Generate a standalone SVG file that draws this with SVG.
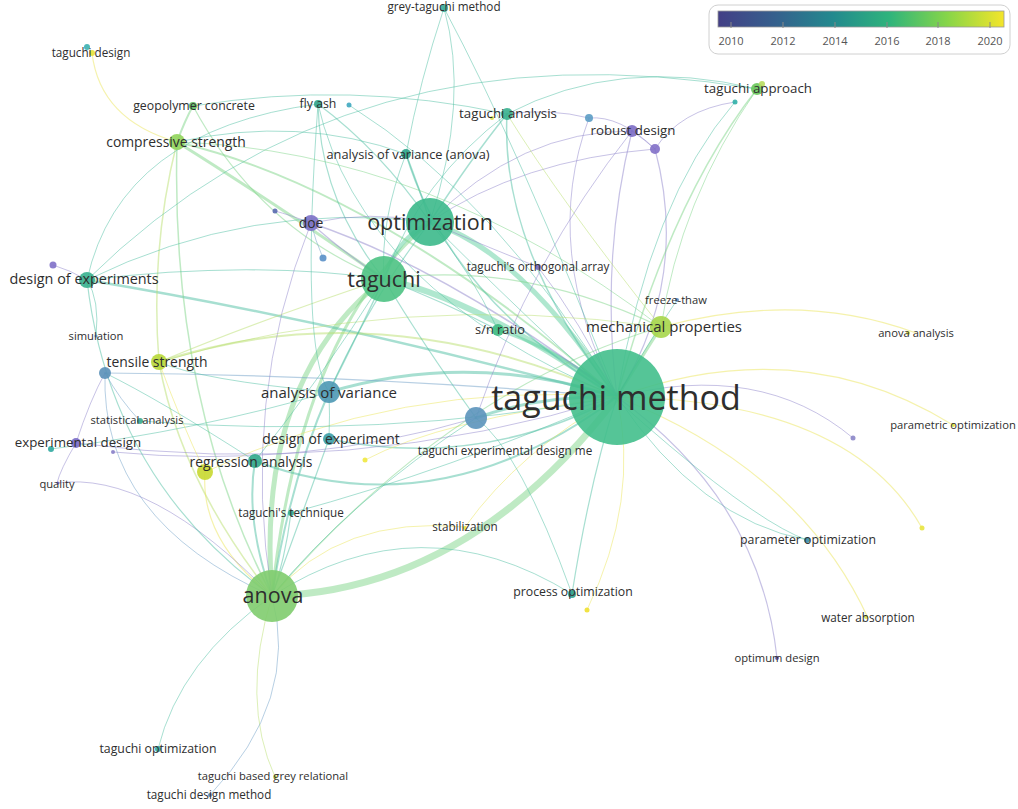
<svg xmlns="http://www.w3.org/2000/svg" width="1018" height="809" viewBox="0 0 1018 809">
<defs>
<linearGradient id="vir" x1="0" y1="0" x2="1" y2="0">
<stop offset="0" stop-color="#433f86"/>
<stop offset="0.2" stop-color="#35608d"/>
<stop offset="0.4" stop-color="#23898e"/>
<stop offset="0.6" stop-color="#2fb47c"/>
<stop offset="0.8" stop-color="#86d549"/>
<stop offset="1" stop-color="#f4e52a"/>
</linearGradient>
<style>
path{fill:none;stroke-linecap:round;stroke-opacity:0.5}
.t{stroke:#4fbfa3}.g{stroke:#7fd68a}.yg{stroke:#b9e070}.y{stroke:#ebe65a}.p{stroke:#8f86cc}.b{stroke:#6f9fc8}.tg{stroke:#5fcf9f}
text{font-family:"Open Sans","Noto Sans","Liberation Sans",sans-serif;fill:#2e2e2e;text-anchor:middle}
.lg{font-size:11px;fill:#555}
circle{fill-opacity:0.9}
</style>
</defs>
<rect width="1018" height="809" fill="#ffffff"/>

<g id="connectors">
<path class="g" stroke-width="7" d="M272 596 Q470 590 617 397"/>
<path class="tg" stroke-width="6" d="M384 279 Q480 300 617 397"/>
<path class="tg" stroke-width="5" d="M430 222 Q520 250 617 397"/>
<path class="g" stroke-width="5" d="M272 596 Q255 380 384 279"/>
<path class="g" stroke-width="3" d="M272 596 Q300 330 430 222"/>
<path class="tg" stroke-width="4" d="M384 279 Q395 240 430 222"/>
<path class="t" stroke-width="3" d="M329 392 Q470 350 617 397"/>
<path class="t" stroke-width="2.5" d="M87 280 Q330 320 617 397"/>
<path class="yg" stroke-width="2" d="M159 362 Q380 290 617 397"/>
<path class="t" stroke-width="2" d="M272 596 Q290 480 329 392"/>
<path class="t" stroke-width="3" d="M476 418 Q540 395 617 397"/>
<path class="tg" stroke-width="3" d="M498 330 Q560 350 617 397"/>
<path class="g" stroke-width="3" d="M661 327 Q640 360 617 397"/>
<path class="t" stroke-width="2" d="M255 461 Q440 530 617 397"/>
<path class="t" stroke-width="2" d="M272 596 Q245 520 255 461"/>
<path class="p" stroke-width="1.5" d="M311 223 Q450 270 617 397"/>
<path class="g" stroke-width="3" d="M177 142 Q270 200 384 279"/>
<path class="g" stroke-width="2" d="M177 142 Q380 190 617 397"/>
<path class="g" stroke-width="1.5" d="M177 142 Q170 400 272 596"/>
<path class="yg" stroke-width="1.5" d="M177 142 Q150 250 159 362"/>
<path class="g" stroke-width="2" d="M177 142 Q185 120 193 106"/>
<path class="y" stroke-width="1.2" d="M92 53 Q100 120 177 142"/>
<path class="g" stroke-width="1.2" d="M193 106 Q260 230 384 279"/>
<path class="t" stroke-width="1" d="M193 106 Q350 80 507 114"/>
<path class="t" stroke-width="1" d="M177 142 Q300 115 406 154"/>
<path class="t" stroke-width="1.2" d="M318 104 Q320 200 384 279"/>
<path class="t" stroke-width="1.2" d="M318 104 Q380 150 430 222"/>
<path class="t" stroke-width="1" d="M318 104 Q360 290 617 397"/>
<path class="t" stroke-width="1" d="M349 105 Q500 200 617 397"/>
<path class="t" stroke-width="1.5" d="M507 114 Q500 250 617 397"/>
<path class="t" stroke-width="1.5" d="M507 114 Q470 160 430 222"/>
<path class="t" stroke-width="1" d="M507 114 Q420 180 384 279"/>
<path class="t" stroke-width="1.5" d="M406 154 Q450 300 617 397"/>
<path class="t" stroke-width="1.5" d="M406 154 Q420 190 430 222"/>
<path class="t" stroke-width="1" d="M406 154 Q380 220 384 279"/>
<path class="p" stroke-width="1.2" d="M632 131 Q600 260 617 397"/>
<path class="p" stroke-width="1" d="M632 131 Q520 130 430 222"/>
<path class="p" stroke-width="1" d="M589 118 Q540 250 617 397"/>
<path class="p" stroke-width="1" d="M589 118 Q550 108 507 114"/>
<path class="p" stroke-width="1" d="M589 118 Q620 115 655 149"/>
<path class="p" stroke-width="1.2" d="M655 149 Q690 280 617 397"/>
<path class="p" stroke-width="1" d="M655 149 Q520 160 430 222"/>
<path class="p" stroke-width="1" d="M632 131 Q645 140 655 149"/>
<path class="p" stroke-width="1" d="M735 102 Q680 110 655 149"/>
<path class="g" stroke-width="1.5" d="M757 89 Q670 200 617 397"/>
<path class="t" stroke-width="1" d="M735 102 Q650 200 617 397"/>
<path class="t" stroke-width="1" d="M757 89 Q620 55 507 114"/>
<path class="t" stroke-width="1" d="M757 89 Q350 20 87 280"/>
<path class="t" stroke-width="1" d="M444 8 Q520 150 617 397"/>
<path class="t" stroke-width="1" d="M444 8 Q470 100 430 222"/>
<path class="p" stroke-width="1" d="M538 267 Q580 320 617 397"/>
<path class="p" stroke-width="1" d="M538 267 Q470 240 430 222"/>
<path class="t" stroke-width="1" d="M677 300 Q650 340 617 397"/>
<path class="y" stroke-width="1.2" d="M661 327 Q800 290 916 333"/>
<path class="y" stroke-width="1.2" d="M953 425 Q800 330 617 397"/>
<path class="p" stroke-width="1" d="M853 438 Q760 360 617 397"/>
<path class="y" stroke-width="1.2" d="M922 528 Q850 400 617 397"/>
<path class="t" stroke-width="1" d="M807 540 Q700 520 617 397"/>
<path class="y" stroke-width="1.2" d="M868 618 Q800 470 617 397"/>
<path class="p" stroke-width="1.2" d="M777 658 Q760 500 617 397"/>
<path class="t" stroke-width="1.2" d="M572 594 Q590 480 617 397"/>
<path class="t" stroke-width="1" d="M572 594 Q420 500 272 596"/>
<path class="y" stroke-width="1" d="M587 610 Q640 500 617 397"/>
<path class="y" stroke-width="1" d="M465 527 Q520 450 617 397"/>
<path class="y" stroke-width="1" d="M465 527 Q340 515 272 596"/>
<path class="t" stroke-width="1.2" d="M291 513 Q285 560 272 596"/>
<path class="t" stroke-width="1" d="M291 513 Q450 470 617 397"/>
<path class="t" stroke-width="1.5" d="M329 439 Q480 470 617 397"/>
<path class="t" stroke-width="1.2" d="M329 439 Q300 520 272 596"/>
<path class="y" stroke-width="1" d="M365 460 Q440 420 617 397"/>
<path class="yg" stroke-width="1.5" d="M159 362 Q180 480 272 596"/>
<path class="b" stroke-width="1.2" d="M105 373 Q360 375 617 397"/>
<path class="b" stroke-width="1" d="M105 373 Q100 520 272 596"/>
<path class="yg" stroke-width="1.2" d="M159 362 Q260 320 384 279"/>
<path class="y" stroke-width="1.2" d="M205 472 Q200 540 272 596"/>
<path class="y" stroke-width="1" d="M205 472 Q400 380 617 397"/>
<path class="t" stroke-width="1" d="M140 421 Q380 440 617 397"/>
<path class="p" stroke-width="1" d="M76 443 Q350 480 617 397"/>
<path class="p" stroke-width="1" d="M113 452 Q300 470 476 418"/>
<path class="p" stroke-width="1" d="M57 483 Q150 470 272 596"/>
<path class="p" stroke-width="1" d="M76 443 Q60 470 57 483"/>
<path class="t" stroke-width="1.2" d="M87 280 Q110 480 272 596"/>
<path class="t" stroke-width="1.2" d="M87 280 Q250 260 384 279"/>
<path class="t" stroke-width="1" d="M87 280 Q250 200 430 222"/>
<path class="p" stroke-width="1" d="M53 265 Q70 270 87 280"/>
<path class="t" stroke-width="1" d="M96 336 Q100 300 87 280"/>
<path class="t" stroke-width="1" d="M158 749 Q180 660 272 596"/>
<path class="yg" stroke-width="1" d="M275 777 Q240 700 272 596"/>
<path class="b" stroke-width="1" d="M210 795 Q300 700 272 596"/>
<path class="p" stroke-width="1.2" d="M311 223 Q340 250 384 279"/>
<path class="p" stroke-width="1" d="M311 223 Q370 210 430 222"/>
<path class="p" stroke-width="1" d="M311 223 Q240 400 272 596"/>
<path class="p" stroke-width="1" d="M275 211 Q290 215 311 223"/>
<path class="b" stroke-width="1" d="M323 258 Q315 240 311 223"/>
<path class="g" stroke-width="1.2" d="M661 327 Q450 390 272 596"/>
<path class="g" stroke-width="1.2" d="M661 327 Q520 260 384 279"/>
<path class="yg" stroke-width="1" d="M661 327 Q400 290 159 362"/>
<path class="g" stroke-width="1" d="M661 327 Q430 150 177 142"/>
<path class="t" stroke-width="1.5" d="M329 392 Q360 330 384 279"/>
<path class="t" stroke-width="1.2" d="M329 392 Q370 300 430 222"/>
<path class="t" stroke-width="1.2" d="M498 330 Q440 300 384 279"/>
<path class="t" stroke-width="1" d="M498 330 Q470 270 430 222"/>
<path class="t" stroke-width="1.2" d="M476 418 Q420 340 384 279"/>
<path class="t" stroke-width="1" d="M476 418 Q350 500 272 596"/>
<path class="t" stroke-width="1" d="M255 461 Q320 380 384 279"/>
<path class="t" stroke-width="1" d="M255 461 Q160 400 105 373"/>
<path class="b" stroke-width="1" d="M105 373 Q120 400 140 421"/>
<path class="p" stroke-width="1" d="M76 443 Q90 400 105 373"/>
<path class="t" stroke-width="1" d="M51 449 Q200 430 329 392"/>
<path class="t" stroke-width="1" d="M329 439 Q330 415 329 392"/>
<path class="t" stroke-width="1" d="M329 392 Q200 380 159 362"/>
<path class="y" stroke-width="1" d="M205 472 Q180 420 159 362"/>
<path class="t" stroke-width="1" d="M572 594 Q520 450 476 418"/>
<path class="t" stroke-width="1" d="M87 280 Q120 130 318 104"/>
<path class="t" stroke-width="1" d="M318 104 Q300 350 329 392"/>
<path class="t" stroke-width="1" d="M444 8 Q420 80 406 154"/>
<path class="yg" stroke-width="1" d="M507 114 Q560 200 661 327"/>
<path class="g" stroke-width="1" d="M757 89 Q680 200 661 327"/>
<path class="p" stroke-width="1" d="M632 131 Q530 260 476 418"/>
<path class="t" stroke-width="1" d="M807 540 Q720 510 430 222"/>
</g>

<g id="legend">
<rect x="709" y="5" width="301" height="49" rx="9" fill="#fff" stroke="#d0d0d0"/>
<rect x="718" y="11" width="286" height="16" fill="url(#vir)" stroke="#999" stroke-width="0.8"/>
<g stroke="#888" stroke-width="1">
<line x1="731" y1="22" x2="731" y2="28"/><line x1="783" y1="22" x2="783" y2="28"/><line x1="835" y1="22" x2="835" y2="28"/><line x1="887" y1="22" x2="887" y2="28"/><line x1="938" y1="22" x2="938" y2="28"/><line x1="990" y1="22" x2="990" y2="28"/>
</g>
<text class="lg" x="731" y="45">2010</text><text class="lg" x="783" y="45">2012</text><text class="lg" x="835" y="45">2014</text><text class="lg" x="887" y="45">2016</text><text class="lg" x="938" y="45">2018</text><text class="lg" x="990" y="45">2020</text>
</g>

<g id="n-taguchi-method"><circle cx="617" cy="397" r="48" fill="#43bf8c"/><text x="616" y="410" font-size="34">taguchi method</text></g>
<g id="n-optimization"><circle cx="430" cy="222" r="24" fill="#3cb98b"/><text x="430" y="230" font-size="21.5">optimization</text></g>
<g id="n-taguchi"><circle cx="384" cy="279" r="23" fill="#4cc283"/><text x="384" y="287" font-size="21.5">taguchi</text></g>
<g id="n-anova"><circle cx="272" cy="596" r="26" fill="#80cc6e"/><text x="273" y="603" font-size="21.5">anova</text></g>
<g id="n-mechanical-properties"><circle cx="661" cy="327" r="11" fill="#a6d64a"/><text x="664" y="332" font-size="15">mechanical properties</text></g>
<g id="n-analysis-of-variance"><circle cx="329" cy="392" r="11" fill="#4c98b4"/><text x="329" y="398" font-size="15">analysis of variance</text></g>
<g id="n-taguchi-experimental-design-me"><circle cx="476" cy="418" r="11" fill="#5b93bb"/><text x="505" y="455" font-size="11.7">taguchi experimental design me</text></g>
<g id="n-sn-ratio"><circle cx="498" cy="330" r="6" fill="#3cb980"/><text x="500" y="334" font-size="12.8">s/n ratio</text></g>
<g id="n-doe"><circle cx="311" cy="223" r="8" fill="#7b70c6"/><circle cx="275" cy="211" r="2.5" fill="#5a6ab0"/><circle cx="323" cy="258" r="3.5" fill="#5a90c8"/><text x="311" y="228" font-size="13.9">doe</text></g>
<g id="n-design-of-experiments"><circle cx="87" cy="280" r="8" fill="#36b08e"/><circle cx="53" cy="265" r="3.5" fill="#8070c8"/><text x="84" y="284" font-size="14.4">design of experiments</text></g>
<g id="n-compressive-strength"><circle cx="177" cy="142" r="8" fill="#90d45a"/><text x="176" y="147" font-size="13.9">compressive strength</text></g>
<g id="n-geopolymer-concrete"><circle cx="193" cy="106" r="4" fill="#5fba60"/><text x="194" y="110" font-size="12.3">geopolymer concrete</text></g>
<g id="n-fly-ash"><circle cx="318" cy="104" r="4" fill="#2fa28a"/><circle cx="349" cy="105" r="2.5" fill="#40a8c0"/><text x="318" y="108" font-size="12.3">fly ash</text></g>
<g id="n-taguchi-analysis"><circle cx="507" cy="114" r="6" fill="#38b08e"/><circle cx="492" cy="118" r="2" fill="#d8e050"/><text x="508" y="118" font-size="13.3">taguchi analysis</text></g>
<g id="n-analysis-of-variance-anova"><circle cx="406" cy="154" r="5" fill="#2ea48a"/><text x="408" y="159" font-size="12.8">analysis of variance (anova)</text></g>
<g id="n-robust-design"><circle cx="632" cy="131" r="6" fill="#7b6cc4"/><circle cx="655" cy="149" r="5" fill="#8270c8"/><circle cx="589" cy="118" r="4" fill="#5b9cc4"/><text x="633" y="135" font-size="13.3">robust design</text></g>
<g id="n-taguchi-approach"><circle cx="757" cy="89" r="6" fill="#68c65a"/><circle cx="762" cy="84" r="3" fill="#b8dc60"/><circle cx="735" cy="102" r="2.5" fill="#30b0a8"/><text x="758" y="93" font-size="13.3">taguchi approach</text></g>
<g id="n-grey-taguchi-method"><circle cx="444" cy="8" r="4" fill="#3aaa96"/><text x="444" y="11" font-size="11.7">grey-taguchi method</text></g>
<g id="n-taguchi-design"><circle cx="87" cy="47" r="3" fill="#3bb0b0"/><circle cx="92" cy="53" r="3" fill="#e6e23a"/><text x="91" y="57" font-size="11.7">taguchi design</text></g>
<g id="n-taguchis-orthogonal-array"><circle cx="538" cy="267" r="3" fill="#7a6cc0"/><text x="538" y="271" font-size="11.7">taguchi's orthogonal array</text></g>
<g id="n-freeze-thaw"><circle cx="677" cy="300" r="2" fill="#5a8dc0"/><text x="676" y="304" font-size="11.2">freeze-thaw</text></g>
<g id="n-anova-analysis"><circle cx="908" cy="333" r="2" fill="#d8d840"/><text x="916" y="337" font-size="11.2">anova analysis</text></g>
<g id="n-parametric-optimization"><circle cx="953" cy="425" r="2" fill="#e0e040"/><circle cx="853" cy="438" r="2.5" fill="#8b86c8"/><circle cx="922" cy="528" r="2.5" fill="#e8e440"/><text x="953" y="429" font-size="11.2">parametric optimization</text></g>
<g id="n-parameter-optimization"><circle cx="807" cy="540" r="3" fill="#3a8ea8"/><text x="808" y="544" font-size="12.3">parameter optimization</text></g>
<g id="n-water-absorption"><circle cx="866" cy="617" r="2" fill="#d8e050"/><text x="868" y="622" font-size="11.7">water absorption</text></g>
<g id="n-optimum-design"><circle cx="777" cy="658" r="2" fill="#6a5ab8"/><text x="777" y="662" font-size="11.2">optimum design</text></g>
<g id="n-process-optimization"><circle cx="572" cy="594" r="4" fill="#2ea08c"/><circle cx="587" cy="610" r="2.5" fill="#f0e030"/><text x="573" y="596" font-size="12.3">process optimization</text></g>
<g id="n-stabilization"><circle cx="465" cy="528" r="2" fill="#e8e040"/><text x="465" y="531" font-size="11.7">stabilization</text></g>
<g id="n-taguchis-technique"><circle cx="291" cy="513" r="3" fill="#30a890"/><text x="291" y="517" font-size="11.7">taguchi's technique</text></g>
<g id="n-regression-analysis"><circle cx="255" cy="461" r="7" fill="#30a88a"/><circle cx="205" cy="472" r="8" fill="#c8d830"/><text x="251" y="467" font-size="13.9">regression analysis</text></g>
<g id="n-design-of-experiment"><circle cx="329" cy="439" r="6" fill="#3a9ea8"/><circle cx="365" cy="460" r="2.5" fill="#f0e840"/><text x="331" y="444" font-size="13.9">design of experiment</text></g>
<g id="n-tensile-strength"><circle cx="159" cy="362" r="8" fill="#b8d838"/><circle cx="105" cy="373" r="6" fill="#5a90b8"/><text x="157" y="367" font-size="13.9">tensile strength</text></g>
<g id="n-simulation"><circle cx="96" cy="336" r="1.5" fill="#5a8dc0"/><text x="96" y="340" font-size="11.2">simulation</text></g>
<g id="n-statistical-analysis"><circle cx="140" cy="421" r="3" fill="#3aa890"/><text x="137" y="424" font-size="11.2">statistical analysis</text></g>
<g id="n-experimental-design"><circle cx="76" cy="443" r="5" fill="#7a6cc8"/><circle cx="51" cy="449" r="3" fill="#30a8a0"/><circle cx="113" cy="452" r="2" fill="#8880c8"/><text x="78" y="447" font-size="13.3">experimental design</text></g>
<g id="n-quality"><circle cx="58" cy="483" r="1.5" fill="#7a6cc8"/><text x="57" y="488" font-size="11.2">quality</text></g>
<g id="n-taguchi-optimization"><circle cx="158" cy="749" r="3" fill="#30a8a0"/><text x="158" y="753" font-size="12.3">taguchi optimization</text></g>
<g id="n-taguchi-based-grey-relational"><circle cx="275" cy="777" r="2" fill="#c0d840"/><text x="273" y="780" font-size="11.2">taguchi based grey relational</text></g>
<g id="n-taguchi-design-method"><circle cx="210" cy="795" r="2" fill="#5a80b8"/><text x="209" y="799" font-size="11.7">taguchi design method</text></g>
</svg>
